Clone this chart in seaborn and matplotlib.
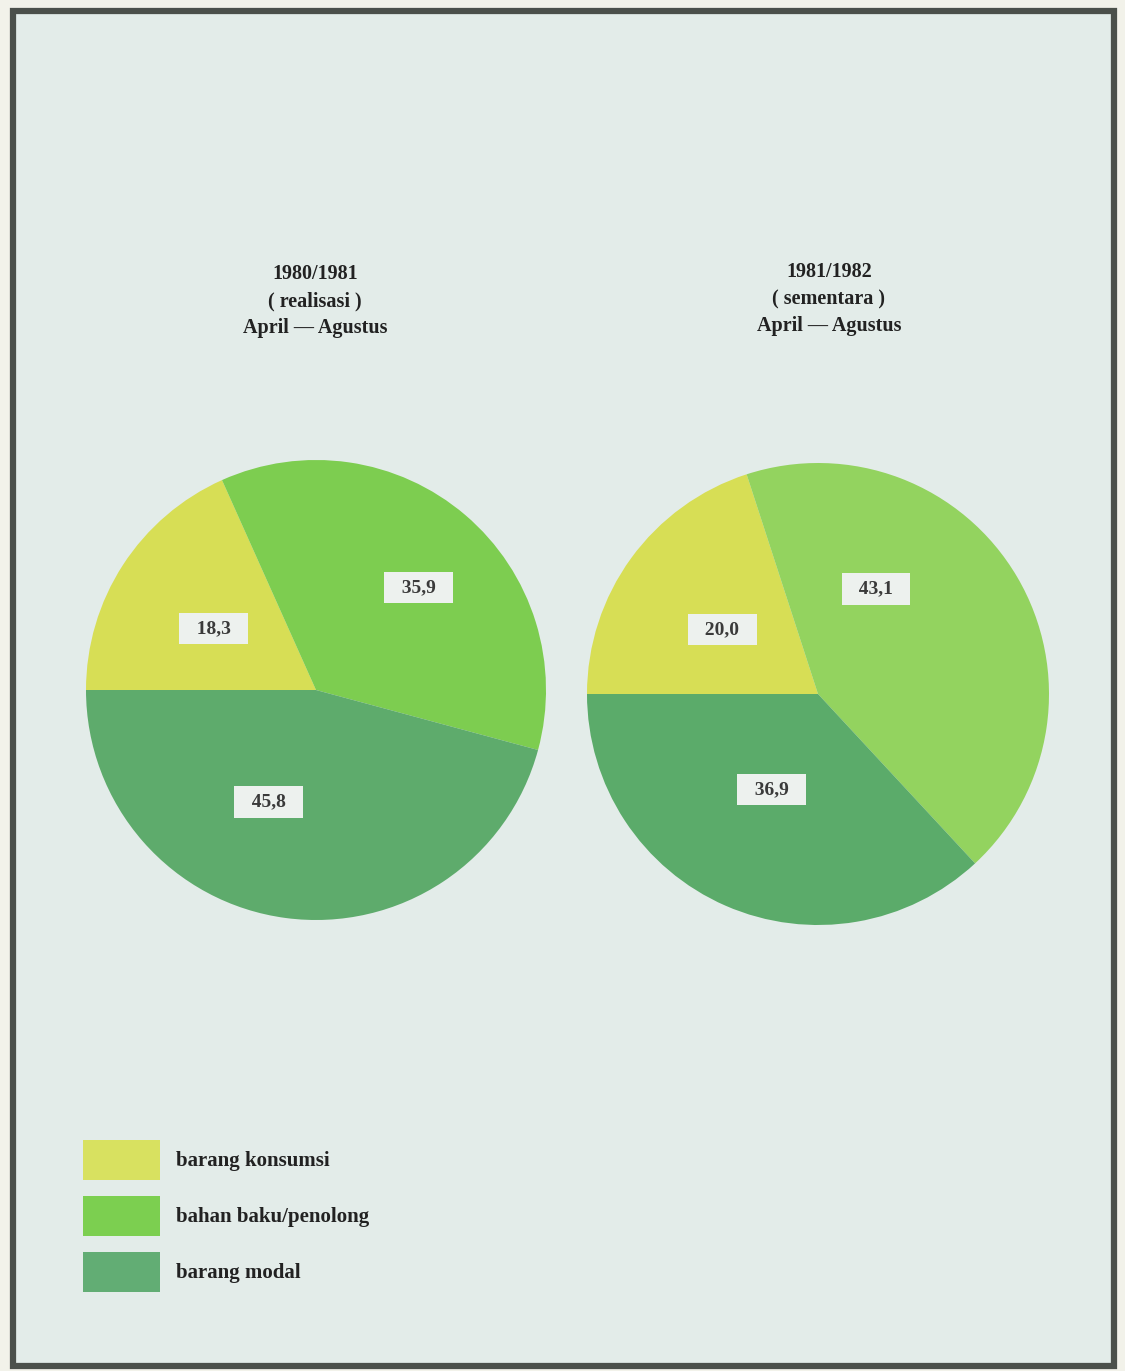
import matplotlib
matplotlib.use("Agg")
import matplotlib.pyplot as plt
import seaborn as sns
import numpy as np
from matplotlib.patches import Rectangle, Patch

# data
categories = ["barang konsumsi", "bahan baku/penolong", "barang modal"]
share_1980 = [18.3, 35.9, 45.8]
share_1981 = [20.0, 43.1, 36.9]
titles = [
    "1980/1981\n( realisasi )\nApril \u2014 Agustus",
    "1981/1982\n( sementara )\nApril \u2014 Agustus",
]

# colours (scan tones)
pal_1980 = sns.color_palette(["#d7de55", "#7dcd50", "#5eab6c"])
pal_1981 = sns.color_palette(["#d7de55", "#93d35f", "#5bab6a"])
legend_cols = sns.color_palette(["#d8e160", "#7ccf50", "#62ad74"])

# label placement (angle in degrees, radius fraction) - layout only
label_pos_1980 = [(149, 0.52), (45, 0.63), (-113, 0.53)]
label_pos_1981 = [(146, 0.50), (61, 0.52), (-116, 0.46)]

sns.set_theme(style="white")
plt.rcParams["font.family"] = ["Liberation Serif", "DejaVu Serif"]

W, H = 1125, 1371
fig = plt.figure(figsize=(W / 100, H / 100), dpi=100)
fig.patch.set_facecolor("#f2f2ea")

# framed panel
fig.patches.append(Rectangle((13 / W, 1 - 1366 / H), (1114 - 13) / W, (1366 - 11) / H,
                             transform=fig.transFigure, facecolor="#e3ece9",
                             edgecolor="#4b504b", linewidth=4.5, zorder=-5))


def draw_pie(rect, values, colors, label_pos):
    ax = fig.add_axes(rect, zorder=2)
    ax.pie(values, colors=colors, startangle=180, counterclock=False,
           radius=1.0, wedgeprops=dict(edgecolor="none", linewidth=0))
    for v, (ang, r) in zip(values, label_pos):
        t = np.deg2rad(ang)
        lab = f"{v:.1f}".replace(".", ",")
        ax.text(r * np.cos(t), r * np.sin(t), f"  {lab}  ",
                ha="center", va="center", fontsize=14, fontweight="bold",
                color="#3a3a3a",
                bbox=dict(boxstyle="square,pad=0.38", facecolor="#edf1ee",
                          edgecolor="none"))
    ax.set_xlim(-1.0, 1.0)
    ax.set_ylim(-1.0, 1.0)
    ax.set_aspect("equal")
    ax.axis("off")
    return ax


draw_pie([86 / W, 1 - 920 / H, 460 / W, 460 / H], share_1980, pal_1980, label_pos_1980)
draw_pie([587 / W, 1 - 925 / H, 462 / W, 462 / H], share_1981, pal_1981, label_pos_1981)

for x, y, t in [(315, 301, titles[0]), (829, 299, titles[1])]:
    fig.text(x / W, 1 - y / H, t, ha="center", va="center", fontsize=14.5,
             fontweight="bold", color="#222222", linespacing=1.45)

handles = [Patch(facecolor=c, edgecolor="none") for c in legend_cols]
leg = fig.legend(handles, categories, loc="upper left",
                 bbox_to_anchor=(83 / W, 1 - 1140 / H), frameon=False,
                 prop=dict(family=["Liberation Serif"], size=15, weight="bold"),
                 handlelength=3.7, handleheight=2.6,
                 labelspacing=0.75, handletextpad=0.75, borderpad=0,
                 borderaxespad=0, labelcolor="#222222")

fig.savefig("out.png", dpi=100, facecolor=fig.get_facecolor())
